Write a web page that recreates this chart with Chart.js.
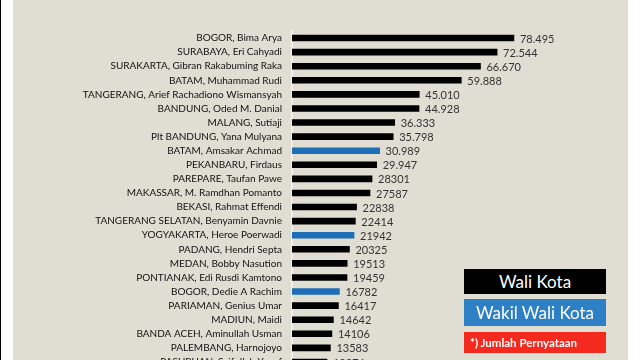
<!DOCTYPE html>
<html>
<head>
<meta charset="utf-8">
<script src="https://cdn.jsdelivr.net/npm/chart.js@4.4.0/dist/chart.umd.min.js"></script>
<style>
  html, body { margin: 0; padding: 0; width: 640px; height: 360px; overflow: hidden; background: #ffffff; }
  #leftline { position: absolute; left: 0; top: 0; width: 1px; height: 360px; background: #000; }
  #panel { position: absolute; left: 13px; top: 0; width: 615px; height: 360px; background: #E0DDD3; overflow: hidden; }
  #wrap { position: absolute; left: 0; top: 0; width: 615px; height: 385px; }
  .box { position: absolute; color: #fff; text-align: center; font-family: Lato, "Open Sans", sans-serif; }
  #b1 { left: 451px; top: 269px; width: 142px; height: 25px; line-height: 25px; background: #000; font-size: 17px; }
  #b2 { left: 451px; top: 299px; width: 142px; height: 27px; line-height: 27px; background: #2E80C6; font-size: 17px; }
  #b3 { left: 451px; top: 332px; width: 142px; height: 21px; line-height: 21px; background: #F42A1F; font-size: 11.5px; font-weight: bold; text-align: left; padding-left: 6px; box-sizing: border-box; }
</style>
</head>
<body>
<div id="leftline"></div>
<div id="panel">
  <div id="wrap"><canvas id="c"></canvas></div>
  <div class="box" id="b1">Wali Kota</div>
  <div class="box" id="b2">Wakil Wali Kota</div>
  <div class="box" id="b3">*) Jumlah Pernyataan</div>
</div>
<script>
const categories = [
  "BOGOR, Bima Arya",
  "SURABAYA, Eri Cahyadi",
  "SURAKARTA, Gibran Rakabuming Raka",
  "BATAM, Muhammad Rudi",
  "TANGERANG, Arief Rachadiono Wismansyah",
  "BANDUNG, Oded M. Danial",
  "MALANG, Sutiaji",
  "Plt BANDUNG, Yana Mulyana",
  "BATAM, Amsakar Achmad",
  "PEKANBARU, Firdaus",
  "PAREPARE, Taufan Pawe",
  "MAKASSAR, M. Ramdhan Pomanto",
  "BEKASI, Rahmat Effendi",
  "TANGERANG SELATAN, Benyamin Davnie",
  "YOGYAKARTA, Heroe Poerwadi",
  "PADANG, Hendri Septa",
  "MEDAN, Bobby Nasution",
  "PONTIANAK, Edi Rusdi Kamtono",
  "BOGOR, Dedie A Rachim",
  "PARIAMAN, Genius Umar",
  "MADIUN, Maidi",
  "BANDA ACEH, Aminullah Usman",
  "PALEMBANG, Harnojoyo",
  "PASURUAN, Saifullah Yusuf"
];
const values = [78495, 72544, 66670, 59888, 45010, 44928, 36333, 35798, 30989, 29947,
  28301, 27587, 22838, 22414, 21942, 20325, 19513, 19459, 16782, 16417,
  14642, 14106, 13583, 12376];
const valueLabels = ["78.495", "72.544", "66.670", "59.888", "45.010", "44.928", "36.333", "35.798", "30.989", "29.947",
  "28301", "27587", "22838", "22414", "21942", "20325", "19513", "19459", "16782", "16417",
  "14642", "14106", "13583", "12376"];
const roles = ["Wali Kota", "Wali Kota", "Wali Kota", "Wali Kota", "Wali Kota", "Wali Kota", "Wali Kota", "Wali Kota",
  "Wakil Wali Kota", "Wali Kota", "Wali Kota", "Wali Kota", "Wali Kota", "Wali Kota", "Wakil Wali Kota",
  "Wali Kota", "Wali Kota", "Wali Kota", "Wakil Wali Kota", "Wali Kota", "Wali Kota", "Wali Kota", "Wali Kota", "Wali Kota"];
const roleColors = { "Wali Kota": "#000000", "Wakil Wali Kota": "#1F6EB8" };

const valueLabelPlugin = {
  id: 'valueLabels',
  afterDatasetsDraw(chart) {
    const ctx = chart.ctx;
    const meta = chart.getDatasetMeta(0);
    ctx.save();
    ctx.font = '11px Lato, "Open Sans", sans-serif';
    ctx.fillStyle = '#333333';
    ctx.textBaseline = 'middle';
    ctx.textAlign = 'left';
    meta.data.forEach((bar, i) => {
      ctx.fillText(valueLabels[i], bar.x + 6, bar.y + 1);
    });
    ctx.restore();
  }
};

new Chart(document.getElementById('c'), {
  type: 'bar',
  data: {
    labels: categories,
    datasets: [{
      data: values,
      backgroundColor: roles.map(r => roleColors[r]),
      barThickness: 6,
      borderWidth: 0
    }]
  },
  options: {
    indexAxis: 'y',
    responsive: true,
    maintainAspectRatio: false,
    animation: false,
    layout: { padding: { top: 31, bottom: 5, right: 25, left: 0 } },
    plugins: { legend: { display: false }, tooltip: { enabled: false } },
    scales: {
      x: { display: false, min: 0, max: 110000 },
      y: {
        afterFit(scale) { scale.width = 279; },
        grid: { display: false, drawTicks: false },
        border: { display: true, color: '#F2F0EA', width: 2 },
        ticks: {
          padding: 10,
          color: '#111111',
          font: { family: 'Lato, "Open Sans", sans-serif', size: 10 },
          autoSkip: false
        }
      }
    }
  },
  plugins: [valueLabelPlugin]
});
</script>
</body>
</html>
